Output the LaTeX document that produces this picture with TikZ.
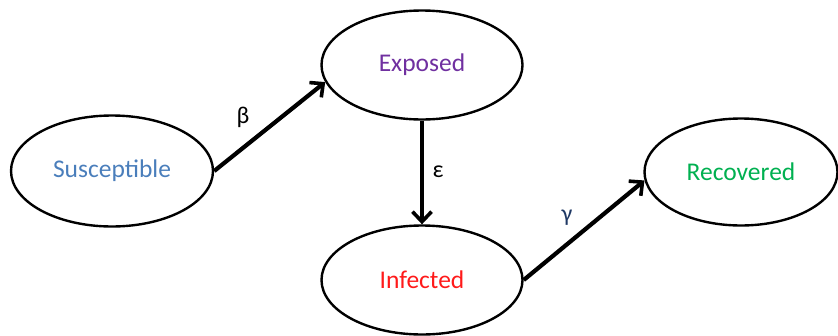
\documentclass[tikz,border=0pt]{standalone}
\usepackage{fontspec}
\setmainfont{Carlito}
\usetikzlibrary{shapes.geometric,arrows.meta}
\definecolor{susc}{HTML}{4A7EBB}
\definecolor{expo}{HTML}{7030A0}
\definecolor{infe}{HTML}{FF1A1A}
\definecolor{reco}{HTML}{00B050}
\definecolor{rateblue}{HTML}{1F3864}
\begin{document}
\begin{tikzpicture}[x=1pt,y=-1pt,
  state/.style={ellipse,draw,line width=2.4pt,inner sep=0pt,
    font=\fontsize{25.5}{28}\selectfont},
  flow/.style={line width=4.2pt,-{Straight Barb[length=10pt,width=19pt,line width=3.6pt]}},
  rate/.style={font=\fontsize{24}{28}\selectfont,inner sep=0pt}]
  \useasboundingbox (0,0) rectangle (838,335);
  % compartments
  \node[state,minimum width=202pt,minimum height=111pt,text=susc] (sus) at (112,171) {Susceptible};
  \node[state,minimum width=201pt,minimum height=109pt,text=expo] (exp) at (422,65) {Exposed};
  \node[state,minimum width=201pt,minimum height=109pt,text=infe] (inf) at (422,280) {Infected};
  \node[state,minimum width=193pt,minimum height=107pt,text=reco] (rec) at (741,172) {Recovered};
  % transitions
  \draw[flow] (sus.east) -- (exp.190);
  \draw[flow] (exp.south) -- (inf.north);
  \draw[flow] (inf.east) -- (rec.185);
  % rates
  \node[rate] (beta) at (243,117) {β};
  \node[rate] (eps) at (438,172) {ε};
  \node[rate,text=rateblue] (gam) at (567,218) {γ};
\end{tikzpicture}
\end{document}
